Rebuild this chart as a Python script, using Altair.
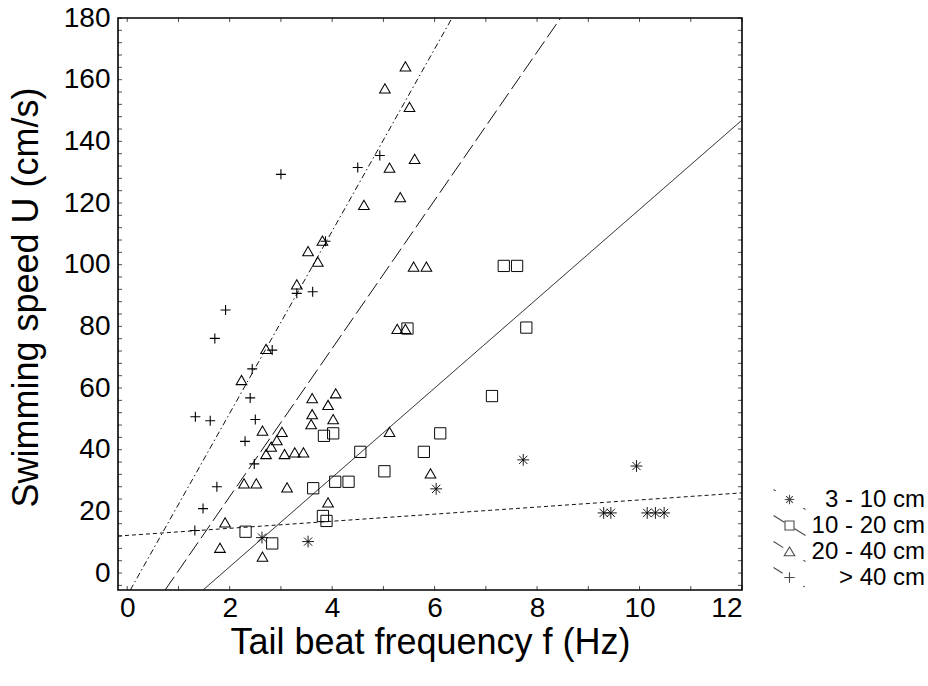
import altair as alt
import pandas as pd

# ---------------- data ----------------
groups = ["3 - 10 cm", "10 - 20 cm", "20 - 40 cm", "> 40 cm"]

ast_x = [2.63, 3.53, 6.03, 7.73, 9.94, 9.30, 9.44, 10.15, 10.31, 10.48]
ast_y = [11.5, 10.2, 27.3, 36.7, 34.7, 19.5, 19.5, 19.5, 19.5, 19.5]

sq_x = [2.31, 2.83, 3.63, 3.84, 4.02, 4.06, 4.32, 3.82, 3.89, 4.55, 5.02, 5.47,
        5.79, 6.11, 7.12, 7.35, 7.61, 7.79]
sq_y = [13.4, 9.6, 27.5, 44.5, 45.3, 29.6, 29.6, 18.5, 16.9, 39.3, 33.0, 79.3,
        39.3, 45.3, 57.4, 99.6, 99.6, 79.6]

tri_x = [5.43, 5.03, 5.51, 5.12, 5.61, 5.33, 4.62, 3.81, 3.53, 3.72, 3.31, 2.71,
         2.23, 2.64, 3.02, 2.92, 2.81, 2.71, 3.07, 3.27, 3.44, 2.28, 2.52, 3.12,
         5.59, 5.84, 5.27, 5.43, 3.61, 4.07, 3.92, 3.61, 4.02, 3.59, 5.12, 5.92,
         3.92, 1.91, 1.81, 2.64]
tri_y = [164.3, 157.2, 151.2, 131.5, 134.3, 121.9, 119.4, 107.8, 104.4, 101.0,
         93.6, 72.7, 62.6, 46.2, 45.8, 43.1, 41.0, 38.6, 38.6, 39.1, 39.1, 29.1,
         29.1, 27.8, 99.4, 99.4, 79.2, 79.2, 56.7, 58.3, 54.5, 51.5, 49.9, 48.3,
         45.8, 32.3, 22.9, 16.4, 8.2, 5.3]

plus_x = [1.32, 1.48, 1.75, 2.30, 2.48, 1.33, 1.62, 2.50, 2.40, 2.44, 2.83, 1.71,
          1.92, 3.31, 3.62, 3.87, 3.00, 4.50, 4.93]
plus_y = [13.8, 20.9, 28.0, 42.7, 35.4, 50.7, 49.4, 49.8, 56.8, 66.2, 72.3, 76.1,
          85.3, 90.7, 91.2, 107.6, 129.3, 131.5, 135.4]

# regression line end points
line_group = ["3 - 10 cm", "3 - 10 cm", "10 - 20 cm", "10 - 20 cm",
              "20 - 40 cm", "20 - 40 cm", "> 40 cm", "> 40 cm"]
line_x = [-0.18, 12.0, 1.48, 12.0, 0.74, 8.46, 0.06, 6.34]
line_y = [12.0, 26.0, -5.5, 146.9, -5.5, 180.0, -5.5, 180.0]

x_tick_values = list(range(0, 13))
y_tick_values = list(range(-4, 181, 4))
x_label_values = [0, 2, 4, 6, 8, 10, 12]
y_label_values = [0, 20, 40, 60, 80, 100, 120, 140, 160, 180]

# ---------------- tables ----------------
points = pd.DataFrame({
    "x": ast_x + sq_x + tri_x + plus_x,
    "y": ast_y + sq_y + tri_y + plus_y,
    "group": [groups[0]] * len(ast_x) + [groups[1]] * len(sq_x)
             + [groups[2]] * len(tri_x) + [groups[3]] * len(plus_x),
})
lines = pd.DataFrame({"x": line_x, "y": line_y, "group": line_group})
xt = pd.DataFrame({"x": x_tick_values})
yt = pd.DataFrame({"y": y_tick_values})

W, H = 624, 572
FONT = "Liberation Sans"
x_scale = alt.Scale(domain=[-0.18, 12], nice=False, zero=False)
y_scale = alt.Scale(domain=[-5.5, 180], nice=False, zero=False)

x_axis = alt.Axis(values=x_label_values, title="Tail beat frequency f (Hz)",
                  labelPadding=4, titleY=63, titleBaseline="alphabetic")
y_axis = alt.Axis(values=y_label_values, title="Swimming speed U (cm/s)",
                  labelPadding=8, titleX=-81, titleY=279, titleBaseline="alphabetic",
                  titleAngle=270, titleAlign="center")


def X(field):
    return alt.X(field, type="quantitative", scale=x_scale, axis=x_axis)


def Y(field):
    return alt.Y(field, type="quantitative", scale=y_scale, axis=y_axis)


# point marker shapes
PLUS = "M-1,0H1M0,-1V1"
AST = "M-1,0H1M0,-1V1M-0.7,-0.7L0.7,0.7M-0.7,0.7L0.7,-0.7"
point_shapes = [AST, "square", "triangle-up", PLUS]
point_sizes = [140, 100, 150, 140]
point_strokes = [0.9, 1.1, 1.1, 1.1]


# legend symbols: line segment + marker
def seg(a, b):
    return f"M{a},{0.625 * a}L{b},{0.625 * b}"


m_ast = "M-0.38,0H0.38M0,-0.38V0.38M-0.27,-0.27L0.27,0.27M-0.27,0.27L0.27,-0.27"
m_sq = "M-0.36,-0.36H0.36V0.36H-0.36Z"
m_tri = "M0,-0.36L0.42,0.34L-0.42,0.34Z"
m_plus = "M-0.42,0H0.42M0,-0.42V0.42"
legend_shapes = [
    seg(-1.28, -1.1) + seg(1.1, 1.28) + m_ast,
    seg(-1.28, -0.42) + seg(0.42, 1.28) + m_sq,
    seg(-1.28, -0.5) + seg(1.1, 1.28) + m_tri,
    seg(-1.28, -0.55) + seg(1.1, 1.22) + m_plus,
]
dashes = [[4, 3], [1, 0], [16, 5], [6, 3, 1.5, 3]]

line_layer = alt.Chart(lines).mark_line(color="#111111", strokeWidth=1, clip=True).encode(
    x=X("x"), y=Y("y"),
    strokeDash=alt.StrokeDash("group:N", scale=alt.Scale(domain=groups, range=dashes), legend=None),
)

point_layer = alt.Chart(points).mark_point(filled=False, color="black", opacity=1).encode(
    x=X("x"), y=Y("y"),
    shape=alt.Shape("group:N", scale=alt.Scale(domain=groups, range=point_shapes), legend=None),
    size=alt.Size("group:N", scale=alt.Scale(domain=groups, range=point_sizes), legend=None),
    strokeWidth=alt.StrokeWidth("group:N", scale=alt.Scale(domain=groups, range=point_strokes),
                                legend=None),
)

legend_layer = alt.Chart(points).transform_filter("datum.x < -100").mark_point(
    filled=False, color="black", strokeWidth=1.1).encode(
    x=X("x"), y=Y("y"),
    shape=alt.Shape("group:N", scale=alt.Scale(domain=groups, range=legend_shapes),
                    legend=alt.Legend(title=None, orient="none", legendX=658, legendY=468,
                                      padding=0, rowPadding=0, labelFont=FONT, labelFontSize=24,
                                      labelColor="black", labelAlign="right", labelOffset=122,
                                      symbolSize=625, symbolStrokeWidth=1.1,
                                      symbolStrokeColor="black", symbolFillColor="transparent",
                                      labelLimit=400)),
)

tick_bottom = alt.Chart(xt).mark_tick(orient="vertical", size=4, thickness=1, color="black").encode(
    x=X("x"), y=alt.value(H - 2))
tick_top = alt.Chart(xt).mark_tick(orient="vertical", size=4, thickness=1, color="black").encode(
    x=X("x"), y=alt.value(2))
tick_left = alt.Chart(yt).mark_tick(orient="horizontal", size=4, thickness=1, color="black").encode(
    y=Y("y"), x=alt.value(2))
tick_right = alt.Chart(yt).mark_tick(orient="horizontal", size=4, thickness=1, color="black").encode(
    y=Y("y"), x=alt.value(W - 2))

chart = alt.layer(
    line_layer, point_layer, legend_layer, tick_bottom, tick_top, tick_left, tick_right
).resolve_scale(shape="independent").properties(
    width=W, height=H,
    autosize=alt.AutoSizeParams(type="none"),
    padding={"left": 118, "top": 18, "right": 928 - 118 - W, "bottom": 686 - 18 - H},
    background="white",
).configure_view(
    stroke="black", strokeWidth=1.6
).configure_axis(
    domain=False, ticks=False, tickSize=0, grid=False,
    labelFont=FONT, labelFontSize=28, labelColor="black",
    titleFont=FONT, titleFontSize=36, titleFontWeight="normal", titleColor="black",
)

chart.save("out.html", embed_options={"renderer": "svg", "actions": False})
